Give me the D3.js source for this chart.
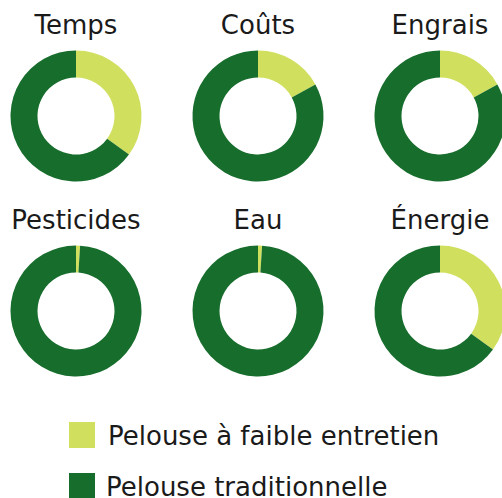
<!DOCTYPE html>
<html>
<head>
<meta charset="utf-8">
<script src="https://cdn.jsdelivr.net/npm/d3@7"></script>
<style>
  body { margin: 0; background: #fff; }
  text { font-family: "DejaVu Sans", sans-serif; fill: #1a1a1a; }
</style>
</head>
<body>
<div id="chart"></div>
<script>
let width = 502,
    height = 498

// values (percent)
const categories = ["Temps", "Coûts", "Engrais", "Pesticides", "Eau", "Énergie"]
const lowMaintenance = [35, 17, 17, 1, 1, 35]
const traditional = [65, 83, 83, 99, 99, 65]
const seriesNames = ["Pelouse à faible entretien", "Pelouse traditionnelle"]
const colors = ["#d0df5e", "#176d2c"]

let svg = d3.select("#chart")
            .append('svg')
            .attr('width', width)
            .attr('height', height)

let col = d3.scalePoint().domain([0, 1, 2]).range([76, 440])
let row = d3.scalePoint().domain([0, 1]).range([116, 311])

let pie = d3.pie().sort(null).value(function(d) { return d })
let arc = d3.arc().innerRadius(38.5).outerRadius(65.5)

let color = d3.scaleOrdinal().domain(seriesNames).range(colors)

categories.forEach(function(cat, i) {
    let g = svg.append('g')
               .attr('transform', "translate(" + col(i % 3) + "," + row(Math.floor(i / 3)) + ")")

    g.selectAll('path')
     .data(pie([lowMaintenance[i], traditional[i]]))
     .join('path')
     .attr('d', arc)
     .attr('fill', function(d, j) { return color(seriesNames[j]) })

    g.append('text')
     .attr('text-anchor', 'middle')
     .attr('y', -82)
     .attr('font-size', 26)
     .text(cat)
})

let legend = svg.append('g')
                .attr('transform', "translate(69,422)")

let item = legend.selectAll('g')
                 .data(seriesNames)
                 .join('g')
                 .attr('transform', function(d, i) { return "translate(0," + (i * 51) + ")" })

item.append('rect')
    .attr('width', 26)
    .attr('height', 26)
    .attr('fill', function(d) { return color(d) })

item.append('text')
    .attr('x', function(d, i) { return i == 0 ? 39 : 37 })
    .attr('y', 23)
    .attr('font-size', 26)
    .text(function(d) { return d })
</script>
</body>
</html>
